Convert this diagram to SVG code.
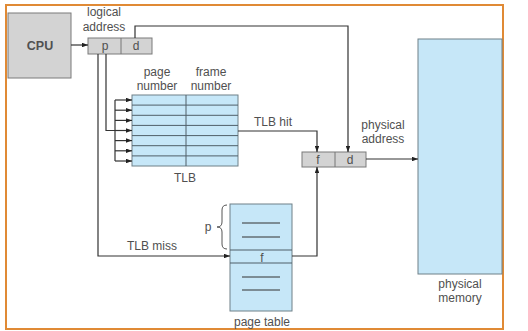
<svg xmlns="http://www.w3.org/2000/svg" width="528" height="331" viewBox="0 0 528 331">
  <style>
    text { font-family: "Liberation Sans", Arial, sans-serif; font-size: 12px; fill: #505050; text-anchor: middle; }
    .reg { fill: #d3d3d3; stroke: #7a7a7a; stroke-width: 1; }
    .mem { fill: #c6e7f8; stroke: #6f8088; stroke-width: 1; }
    .wire { fill: none; stroke: #333; stroke-width: 1.2; }
    .sep { stroke: #4f5f68; stroke-width: 1; }
    .dash { stroke: #333; stroke-width: 1; }
  </style>
  <defs>
    <marker id="arrow" viewBox="0 0 8 6" refX="8" refY="3" markerWidth="6" markerHeight="4.5" orient="auto" markerUnits="userSpaceOnUse">
      <path d="M0,0 L8,3 L0,6 Z" fill="#222"/>
    </marker>
  </defs>

  <!-- frame -->
  <rect x="6" y="5" width="497" height="324" fill="#fff" stroke="#e08a35" stroke-width="2"/>

  <!-- CPU -->
  <g id="cpu">
    <rect class="reg" x="8" y="13" width="63" height="65"/>
    <text x="40" y="50" style="font-weight:bold;font-size:12.5px">CPU</text>
  </g>

  <!-- logical address register -->
  <g id="logical-address">
    <text x="104" y="16">logical</text>
    <text x="104" y="31">address</text>
    <rect class="reg" x="88" y="38" width="64" height="16"/>
    <line x1="121" y1="38" x2="121" y2="54" stroke="#777"/>
    <text x="105" y="50">p</text>
    <text x="136" y="50">d</text>
  </g>

  <!-- TLB -->
  <g id="tlb">
    <text x="157" y="76">page</text>
    <text x="157" y="90">number</text>
    <text x="211" y="76">frame</text>
    <text x="211" y="90">number</text>
    <rect class="mem" x="132" y="95" width="106" height="71"/>
    <line class="sep" x1="186" y1="95" x2="186" y2="166"/>
    <line class="sep" x1="132" y1="105.1" x2="238" y2="105.1"/>
    <line class="sep" x1="132" y1="115.3" x2="238" y2="115.3"/>
    <line class="sep" x1="132" y1="125.4" x2="238" y2="125.4"/>
    <line class="sep" x1="132" y1="135.6" x2="238" y2="135.6"/>
    <line class="sep" x1="132" y1="145.7" x2="238" y2="145.7"/>
    <line class="sep" x1="132" y1="155.9" x2="238" y2="155.9"/>
    <text x="185" y="182">TLB</text>
  </g>

  <!-- physical address register -->
  <g id="physical-address">
    <text x="383" y="129">physical</text>
    <text x="383" y="143">address</text>
    <rect class="reg" x="302" y="152" width="64" height="15"/>
    <line x1="335" y1="152" x2="335" y2="167" stroke="#777"/>
    <text x="318" y="164">f</text>
    <text x="350" y="164">d</text>
  </g>

  <!-- page table -->
  <g id="page-table">
    <rect class="mem" x="230" y="204" width="62" height="107"/>
    <line class="sep" x1="230" y1="250" x2="292" y2="250"/>
    <line class="sep" x1="230" y1="263" x2="292" y2="263"/>
    <line class="dash" x1="242" y1="223" x2="280" y2="223"/>
    <line class="dash" x1="242" y1="237" x2="280" y2="237"/>
    <line class="dash" x1="242" y1="277" x2="280" y2="277"/>
    <line class="dash" x1="242" y1="290" x2="280" y2="290"/>
    <text x="262" y="262">f</text>
    <path d="M227,205 Q222,205 222,210 L222,222 Q222,227 217,227 Q222,227 222,232 L222,244 Q222,249 227,249" fill="none" stroke="#555" stroke-width="1"/>
    <text x="208" y="231">p</text>
    <text x="262" y="326">page table</text>
  </g>

  <!-- physical memory -->
  <g id="physical-memory">
    <rect class="mem" x="418" y="39" width="84" height="235"/>
    <text x="460" y="288">physical</text>
    <text x="460" y="302">memory</text>
  </g>

  <!-- connectors -->
  <g id="connectors">
    <line class="wire" x1="71" y1="45" x2="88" y2="45" marker-end="url(#arrow)"/>
    <polyline class="wire" points="135,38 135,26 348,26 348,152" marker-end="url(#arrow)"/>
    <polyline class="wire" points="98,54 98,256 230,256" marker-end="url(#arrow)"/>
    <polyline class="wire" points="106,54 106,130.5 115,130.5"/>
    <line class="wire" x1="115" y1="100" x2="115" y2="161"/>
    <line class="wire" x1="115" y1="100" x2="132" y2="100" marker-end="url(#arrow)"/>
    <line class="wire" x1="115" y1="110.2" x2="132" y2="110.2" marker-end="url(#arrow)"/>
    <line class="wire" x1="115" y1="120.4" x2="132" y2="120.4" marker-end="url(#arrow)"/>
    <line class="wire" x1="115" y1="130.5" x2="132" y2="130.5" marker-end="url(#arrow)"/>
    <line class="wire" x1="115" y1="140.6" x2="132" y2="140.6" marker-end="url(#arrow)"/>
    <line class="wire" x1="115" y1="150.8" x2="132" y2="150.8" marker-end="url(#arrow)"/>
    <line class="wire" x1="115" y1="161" x2="132" y2="161" marker-end="url(#arrow)"/>
    <polyline class="wire" points="238,131 317,131 317,152" marker-end="url(#arrow)"/>
    <text x="273" y="126">TLB hit</text>
    <polyline class="wire" points="292,256 317,256 317,167" marker-end="url(#arrow)"/>
    <text x="152" y="250">TLB miss</text>
    <line class="wire" x1="366" y1="159" x2="418" y2="159" marker-end="url(#arrow)"/>
  </g>
</svg>
